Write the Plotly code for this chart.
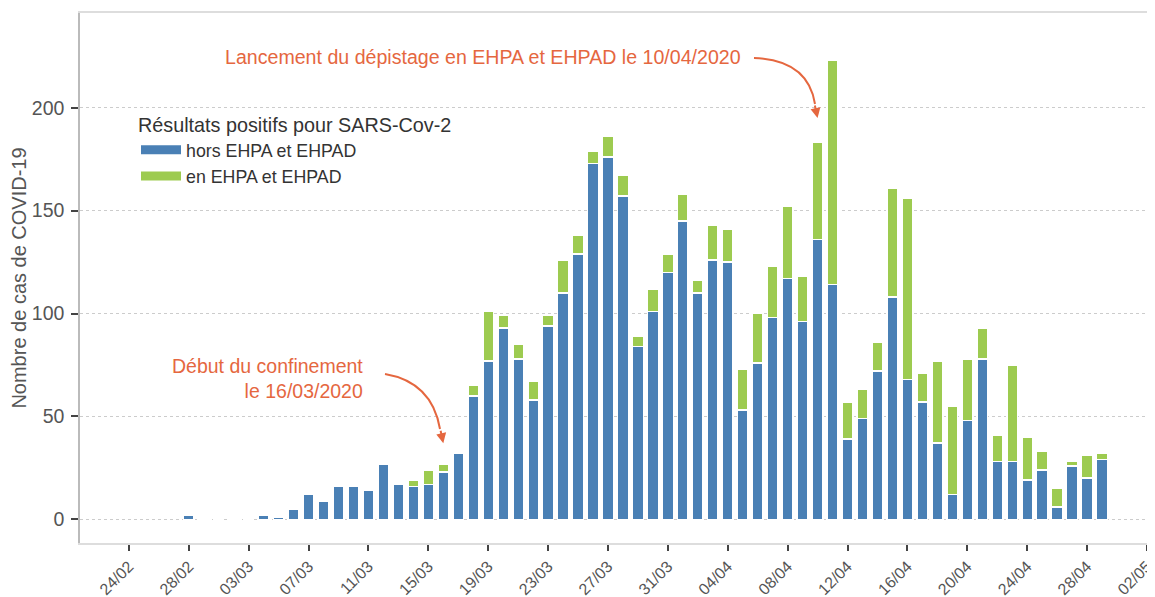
import plotly.graph_objects as go
import pandas as pd

# ---- data ----
dates = pd.date_range("2020-02-28", "2020-04-29", freq="D")
hors_ehpad = [2, 0, 0, 0, 0, 2, 1, 5, 12, 9, 16, 16, 14, 27, 17, 16, 17, 23, 32, 60,
              77, 93, 78, 58, 94, 110, 129, 173, 176, 157, 84, 101, 120, 145, 110, 126, 125,
              53, 76, 98, 117, 96, 136, 114, 39, 49, 72, 108, 68, 57, 37, 12, 48, 78,
              28, 28, 19, 24, 6, 26, 20, 29]
en_ehpad = [0, 0, 0, 0, 0, 0, 0, 0, 0, 0, 0, 0, 0, 0, 0, 3, 7, 4, 0, 5,
            24, 6, 7, 9, 5, 16, 9, 6, 10, 10, 5, 11, 9, 13, 6, 17, 16,
            20, 24, 25, 35, 22, 47, 109, 18, 14, 14, 53, 88, 14, 40, 43, 30, 15,
            13, 47, 21, 9, 9, 2, 11, 3]
tick_dates = ["2020-02-24", "2020-02-28", "2020-03-03", "2020-03-07", "2020-03-11",
              "2020-03-15", "2020-03-19", "2020-03-23", "2020-03-27", "2020-03-31",
              "2020-04-04", "2020-04-08", "2020-04-12", "2020-04-16", "2020-04-20",
              "2020-04-24", "2020-04-28", "2020-05-02"]
tick_labels = ["24/02", "28/02", "03/03", "07/03", "11/03", "15/03", "19/03", "23/03",
               "27/03", "31/03", "04/04", "08/04", "12/04", "16/04", "20/04", "24/04",
               "28/04", "02/05"]
series_names = ["hors EHPA et EHPAD", "en EHPA et EHPAD"]
legend_title = "Résultats positifs pour SARS-Cov-2"
y_title = "Nombre de cas de COVID-19"
event_dates = ["2020-04-10", "2020-03-16"]
event_values = [195, 37]

# ---- style ----
BLUE = "#4A80B5"
GREEN = "#9DCB50"
ORANGE = "#E5673F"
FONT = "Liberation Sans, Arial, sans-serif"
OFF = 8                       # default page body margin
W, H = 1155 - OFF, 597 - OFF
ML, MR, MT, MB = 80 - OFF, 0, 13 - OFF, 54
PW, PH = W - ML - MR, H - MT - MB
DAY_MS = 86400000


def px(x):   # page pixel -> paper x
    return (x - OFF - ML) / PW


def py(y):   # page pixel -> paper y
    return 1 - (y - OFF - MT) / PH


fig = go.Figure()
fig.add_trace(go.Bar(x=dates, y=hors_ehpad, name=series_names[0], marker_color=BLUE,
                     marker_line=dict(color="white", width=1.5), width=0.72 * DAY_MS,
                     legendgroup="a", showlegend=False))
fig.add_trace(go.Bar(x=dates, y=en_ehpad, name=series_names[1], marker_color=GREEN,
                     marker_line=dict(color="white", width=1.5), width=0.72 * DAY_MS,
                     legendgroup="b", showlegend=False))
# legend entries (wide rectangular swatches)
fig.add_trace(go.Scatter(x=[None], y=[None], mode="lines", name=series_names[0],
                         line=dict(color=BLUE, width=9), legendgroup="a"))
fig.add_trace(go.Scatter(x=[None], y=[None], mode="lines", name=series_names[1],
                         line=dict(color=GREEN, width=9), legendgroup="b"))

fig.update_layout(
    width=W, height=H, barmode="stack",
    margin=dict(l=ML, r=MR, t=MT, b=MB, autoexpand=False),
    paper_bgcolor="white", plot_bgcolor="white",
    font=dict(family=FONT, color="#555555"),
    legend=dict(x=px(136), y=py(106), xanchor="left", yanchor="top",
                bgcolor="rgba(0,0,0,0)", itemwidth=40, traceorder="normal",
                title=dict(text=legend_title, font=dict(size=19.8, color="#333333")),
                font=dict(size=17.8, color="#333333"), tracegroupgap=0),
    xaxis=dict(type="date", automargin=False,
               range=[pd.Timestamp("2020-02-24") - pd.Timedelta(hours=78.5),
                      pd.Timestamp("2020-05-02") + pd.Timedelta(hours=13)],
               tickvals=tick_dates, ticktext=tick_labels, tickangle=-45,
               tickfont=dict(size=16, color="#555555"), ticklabeloverflow="allow",
               ticks="outside", ticklen=6, tickwidth=1.5, tickcolor="#444444",
               showline=True, linecolor="#dddddd", linewidth=1.5, mirror=True,
               showgrid=False, zeroline=False),
    yaxis=dict(range=[-11.5, 246], tickvals=[0, 50, 100, 150, 200], automargin=False,
               tickfont=dict(size=19.5, color="#555555"), ticklabelstandoff=3,
               ticks="outside", ticklen=7, tickwidth=1.5, tickcolor="#444444",
               showline=True, linecolor="#bbbbbb", linewidth=1.5,
               showgrid=True, gridcolor="#cccccc", griddash="dot", gridwidth=1,
               zeroline=False,
               title=dict(text=y_title, font=dict(size=20, color="#555555"), standoff=8)),
)

# annotations
fig.add_annotation(x="2020-04-05", y=224.5, xref="x", yref="y", xanchor="right",
                   yanchor="middle", showarrow=False,
                   text="Lancement du dépistage en EHPA et EHPAD le 10/04/2020",
                   font=dict(size=19.6, color=ORANGE, family=FONT))
fig.add_annotation(x="2020-03-10 19:00", y=68.5, xref="x", yref="y", xanchor="right",
                   yanchor="middle", align="right", showarrow=False,
                   text="Début du confinement<br>le 16/03/2020",
                   font=dict(size=19.5, color=ORANGE, family=FONT))

# curved arrows: curve + arrowhead pointing to the event bar
curves = [((754, 58), (808, 60), (815, 104)), ((385, 374), (432, 382), (440, 429))]
for (s, c, e) in curves:
    fig.add_shape(type="path", xref="paper", yref="paper",
                  path=f"M{px(s[0])},{py(s[1])} Q{px(c[0])},{py(c[1])} {px(e[0])},{py(e[1])}",
                  line=dict(color=ORANGE, width=2))
for d, v in zip(event_dates, event_values):
    fig.add_annotation(x=d, y=v, xref="x", yref="y", text="", showarrow=True,
                       arrowhead=2, arrowsize=1, arrowwidth=2, arrowcolor=ORANGE,
                       ax=-3, ay=-14)

fig.write_html("out.html")
